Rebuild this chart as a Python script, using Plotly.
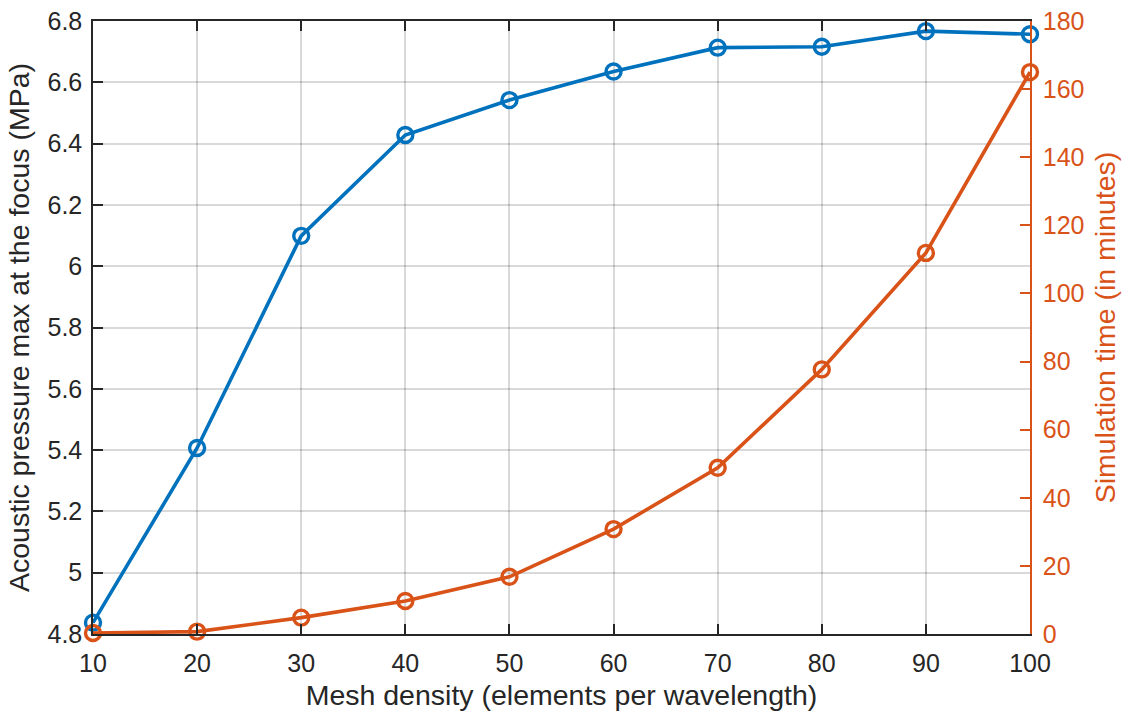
import plotly.graph_objects as go

mesh_density = [10, 20, 30, 40, 50, 60, 70, 80, 90, 100]
pressure_max = [4.837, 5.407, 6.099, 6.428, 6.542, 6.635, 6.713, 6.716, 6.767, 6.757]
sim_time = [0.3, 0.7, 4.8, 9.7, 16.8, 30.8, 48.8, 77.7, 111.9, 165.0]

left_ticks = [4.8, 5.0, 5.2, 5.4, 5.6, 5.8, 6.0, 6.2, 6.4, 6.6, 6.8]
left_ticktext = ["4.8", "5", "5.2", "5.4", "5.6", "5.8", "6", "6.2", "6.4", "6.6", "6.8"]
right_ticks = [0, 20, 40, 60, 80, 100, 120, 140, 160, 180]
x_ticks = [10, 20, 30, 40, 50, 60, 70, 80, 90, 100]

BLUE = "#0072BD"
ORANGE = "#D95319"
DARK = "#262626"
FONT = "Liberation Sans, Arial, Helvetica, sans-serif"
TICK_SIZE = 25
TITLE_SIZE = 28.5

fig = go.Figure()
fig.add_trace(go.Scatter(
    x=mesh_density, y=pressure_max, mode="lines+markers",
    line=dict(color=BLUE, width=3.6),
    marker=dict(symbol="circle-open", size=15, line=dict(color=BLUE, width=3.4)),
    cliponaxis=False, yaxis="y", showlegend=False))
fig.add_trace(go.Scatter(
    x=mesh_density, y=sim_time, mode="lines+markers",
    line=dict(color=ORANGE, width=3.6),
    marker=dict(symbol="circle-open", size=15, line=dict(color=ORANGE, width=3.4)),
    cliponaxis=False, yaxis="y2", showlegend=False))

fig.update_layout(
    width=1137, height=716,
    margin=dict(l=93, r=107, t=21, b=82, autoexpand=False),
    paper_bgcolor="white", plot_bgcolor="white",
    font=dict(family=FONT, color=DARK, size=TICK_SIZE),
    xaxis=dict(
        range=[10, 100], tickvals=x_ticks, ticks="inside", ticklen=10, tickwidth=1.5,
        tickcolor=DARK, showline=True, linecolor=DARK, linewidth=1.5, mirror="ticks",
        showgrid=True, gridcolor="rgba(0,0,0,0.15)", gridwidth=1.5, zeroline=False,
        automargin=False,
        tickfont=dict(size=TICK_SIZE, color=DARK), ticklabelstandoff=6,
        title=dict(text="Mesh density (elements per wavelength)", font=dict(size=TITLE_SIZE, color=DARK), standoff=9),
    ),
    yaxis=dict(
        range=[4.8, 6.8], tickvals=left_ticks, ticktext=left_ticktext, ticks="inside", ticklen=10,
        tickwidth=1.5, tickcolor=DARK, showline=True, linecolor=DARK, linewidth=1.5,
        showgrid=True, gridcolor="rgba(0,0,0,0.15)", gridwidth=1.5, zeroline=False,
        automargin=False,
        tickfont=dict(size=TICK_SIZE, color=DARK), ticklabelstandoff=4,
        title=dict(text="Acoustic pressure max at the focus (MPa)", font=dict(size=TITLE_SIZE, color=DARK), standoff=10),
    ),
    yaxis2=dict(
        range=[0, 180], tickvals=right_ticks, overlaying="y", side="right", anchor="x",
        ticks="inside", ticklen=10, tickwidth=1.5, tickcolor=ORANGE, showline=True,
        linecolor=ORANGE, linewidth=1.5, showgrid=False, zeroline=False,
        automargin=False,
        tickfont=dict(size=TICK_SIZE, color=ORANGE), ticklabelstandoff=6,
        title=dict(text="Simulation time (in minutes)", font=dict(size=TITLE_SIZE, color=ORANGE), standoff=12),
    ),
)

fig.write_html("out.html")
